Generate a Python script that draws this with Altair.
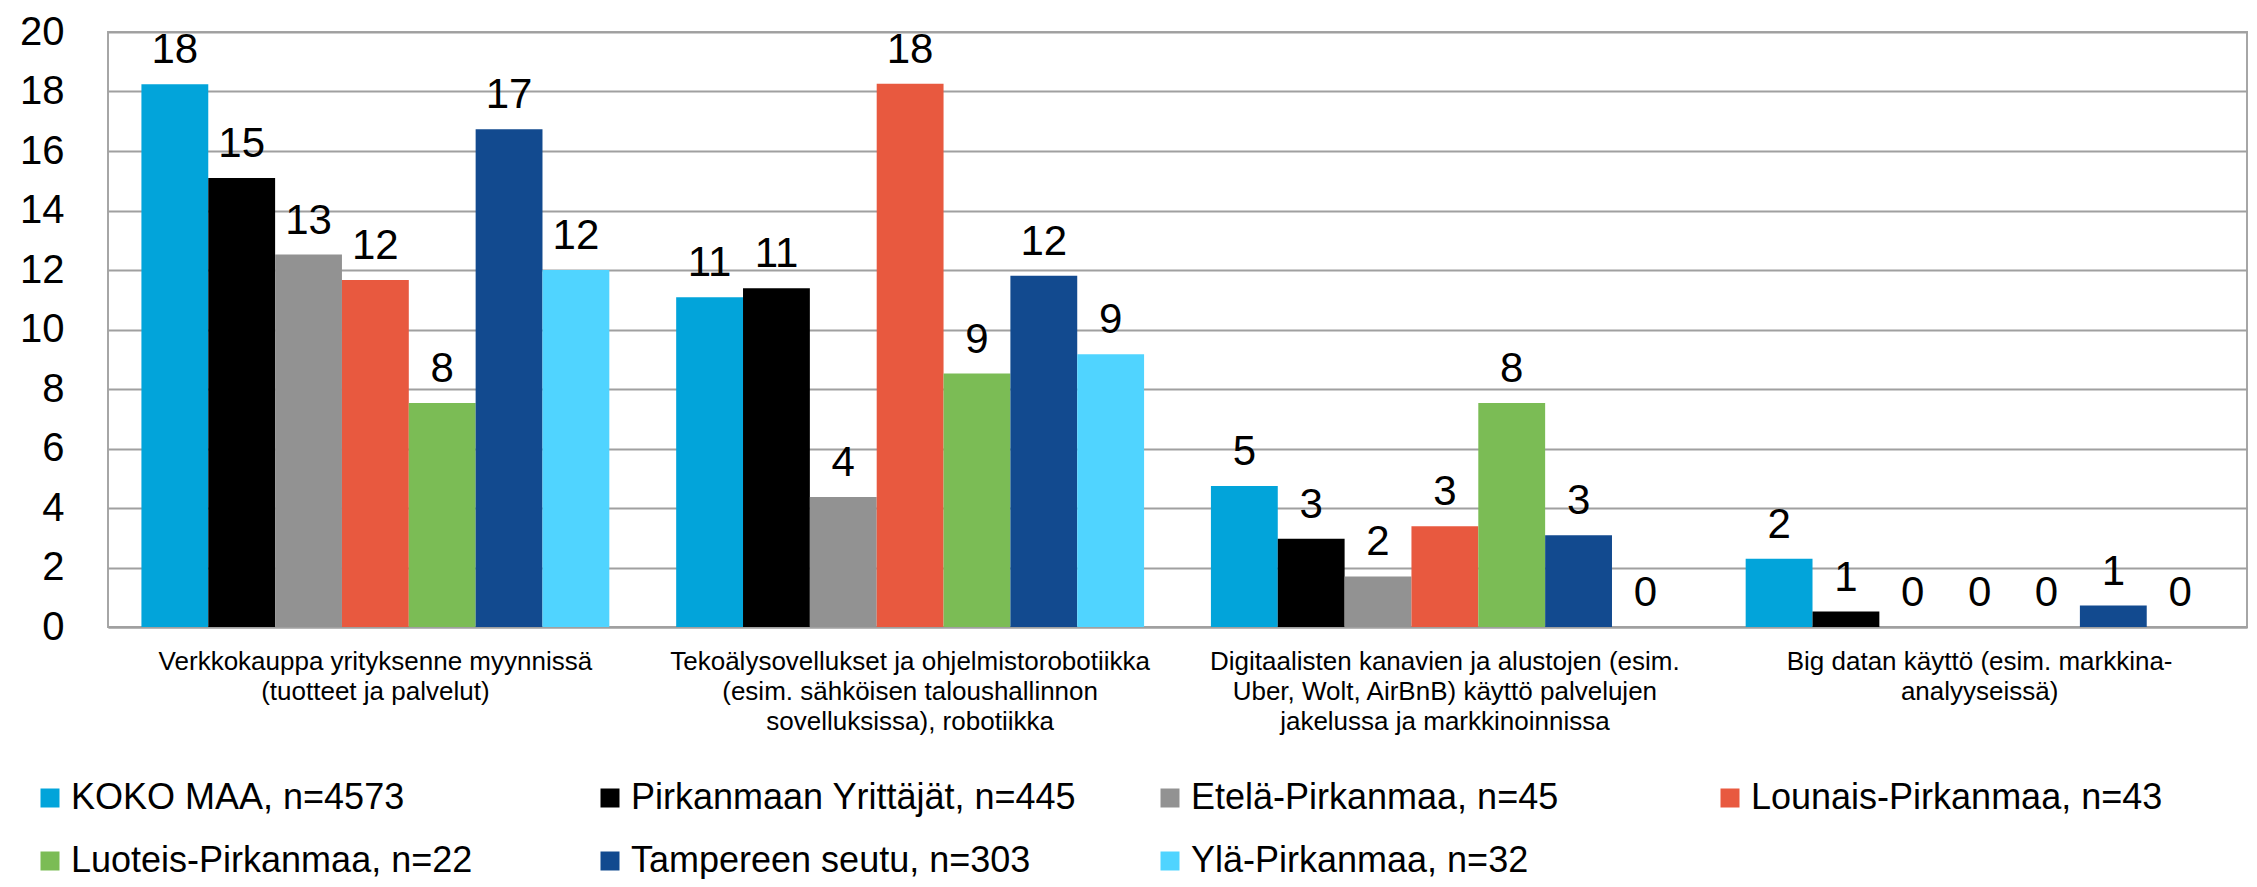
import altair as alt
import pandas as pd

categories = [
    "Verkkokauppa yrityksenne myynnissä|(tuotteet ja palvelut)",
    "Tekoälysovellukset ja ohjelmistorobotiikka|(esim. sähköisen taloushallinnon|sovelluksissa), robotiikka",
    "Digitaalisten kanavien ja alustojen (esim.|Uber, Wolt, AirBnB) käyttö palvelujen|jakelussa ja markkinoinnissa",
    "Big datan käyttö (esim. markkina-|analyyseissä)",
]
series = [
    "KOKO MAA, n=4573",
    "Pirkanmaan Yrittäjät, n=445",
    "Etelä-Pirkanmaa, n=45",
    "Lounais-Pirkanmaa, n=43",
    "Luoteis-Pirkanmaa, n=22",
    "Tampereen seutu, n=303",
    "Ylä-Pirkanmaa, n=32",
]
colors = ["#02A4DA", "#000000", "#929292", "#E8593F", "#7BBC55", "#124A8F", "#50D4FF"]

koko_maa = [18.24, 11.08, 4.74, 2.29]
pirkanmaan_yrittajat = [15.09, 11.39, 2.97, 0.52]
etela = [12.52, 4.37, 1.70, 0.0]
lounais = [11.66, 18.26, 3.39, 0.0]
luoteis = [7.53, 8.52, 7.53, 0.0]
tampere = [16.73, 11.81, 3.08, 0.72]
yla = [12.0, 9.17, 0.0, 0.0]

all_values = [koko_maa, pirkanmaan_yrittajat, etela, lounais, luoteis, tampere, yla]
rows = []
for s, vals in zip(series, all_values):
    for c, v in zip(categories, vals):
        rows.append({"category": c, "series": s, "value": v})
df = pd.DataFrame(rows)

FONT = "Liberation Sans"

x_enc = alt.X(
    "category:N",
    sort=categories,
    scale=alt.Scale(paddingInner=0.125, paddingOuter=0.0625),
    axis=alt.Axis(
        title=None, labelAngle=0, labelExpr="split(datum.label, '|')",
        labelFontSize=26, labelLineHeight=30, labelPadding=21, ticks=False,
        domainColor="#A0A0A0", domainWidth=2, labelLimit=700, labelColor="black",
        labelFont=FONT, labelBaseline="top",
    ),
)
xoff_enc = alt.XOffset("series:N", sort=series, scale=alt.Scale(paddingInner=0, paddingOuter=0))
y_enc = alt.Y(
    "value:Q",
    scale=alt.Scale(domain=[0, 20], nice=False),
    axis=alt.Axis(
        values=list(range(0, 21, 2)), title=None, labelFontSize=40, labelPadding=44,
        domain=False, ticks=False, gridColor="#A0A0A0", gridWidth=2,
        labelColor="black", labelFont=FONT,
    ),
)

bars = alt.Chart(df).mark_bar().encode(
    x=x_enc,
    xOffset=xoff_enc,
    y=y_enc,
    color=alt.Color(
        "series:N", sort=series,
        scale=alt.Scale(domain=series, range=colors),
        legend=alt.Legend(
            title=None, orient="none", legendX=-76, legendY=748,
            direction="horizontal", columns=4, gridAlign="all",
            columnPadding=75, rowPadding=27, symbolType="square",
            symbolSize=361, symbolStrokeWidth=0, labelFontSize=36,
            labelOffset=3, labelLimit=800, labelColor="black", labelFont=FONT,
        ),
    ),
)

labels = alt.Chart(df).mark_text(
    dy=-21, baseline="alphabetic", align="center", fontSize=42, color="black", font=FONT
).encode(
    x=alt.X("category:N", sort=categories),
    xOffset=alt.XOffset("series:N", sort=series),
    y=alt.Y("value:Q"),
    text=alt.Text("value:Q", format=".0f"),
)

chart = (
    alt.layer(bars, labels)
    .properties(
        width=2139, height=595,
        autosize=alt.AutoSizeParams(type="none"),
        padding={"left": 100, "top": 24, "right": 2, "bottom": 252},
        background="white",
    )
    .configure_view(stroke="#A6A6A6", strokeWidth=2)
)

chart.save("out.html", embed_options={"renderer": "svg", "actions": False})
